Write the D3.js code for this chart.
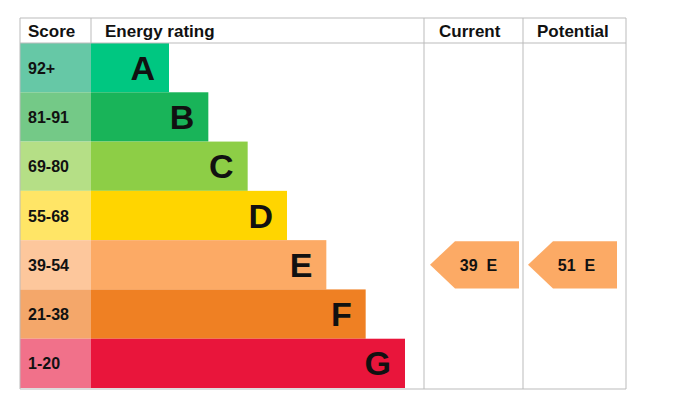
<!DOCTYPE html><html><head><meta charset="utf-8"><script src="https://cdn.jsdelivr.net/npm/d3@7"></script>
<style>body{margin:0;background:#fff}</style></head><body><svg id="c" width="676" height="406"></svg>
<script>
const bands=["A","B","C","D","E","F","G"];
const ranges=["92+","81-91","69-80","55-68","39-54","21-38","1-20"];
const bandLengths=[1,2,3,4,5,6,7];
const barColors=["#00c781","#19b459","#8dce46","#ffd500","#fcaa65","#ef8023","#e9153b"];
const scoreColors=["#66c8a6","#74c987","#b5df86","#ffe566","#fdc79c","#f4a76a","#f1718a"];
const current={score:39,band:"E"}, potential={score:51,band:"E"};
const svg=d3.select("#c");
const y=d3.scaleBand().domain(bands).range([43,388]);
const x=d3.scaleLinear().domain([1,7]).range([169,405]);
const font="Liberation Sans, Arial, sans-serif";
const g=svg.append("g");
g.selectAll(".s").data(bands).join("rect").attr("x",20).attr("width",71).attr("y",d=>y(d)).attr("height",y.bandwidth()).attr("fill",(d,i)=>scoreColors[i]);
g.selectAll(".st").data(bands).join("text").attr("x",28).attr("y",d=>y(d)+y.bandwidth()/2+6).text((d,i)=>ranges[i]).attr("font-family",font).attr("font-weight","bold").attr("font-size",16).attr("fill","#111");
g.selectAll(".b").data(bands).join("rect").attr("x",91).attr("width",(d,i)=>x(bandLengths[i])-91).attr("y",d=>y(d)).attr("height",y.bandwidth()).attr("fill",(d,i)=>barColors[i]);
g.selectAll(".bt").data(bands).join("text").attr("x",(d,i)=>x(bandLengths[i])-14).attr("y",d=>y(d)+y.bandwidth()/2+12).attr("text-anchor","end").text(d=>d).attr("font-family",font).attr("font-weight","bold").attr("font-size",34).attr("fill","#111");
const L="#bbb";
[[20,18,626,18],[20,43,626,43],[20,389,626,389],[20,18,20,389],[91,18,91,43],[424,18,424,389],[523,18,523,389],[626,18,626,389]].forEach(l=>svg.append("line").attr("x1",l[0]).attr("y1",l[1]).attr("x2",l[2]).attr("y2",l[3]).attr("stroke",L).attr("stroke-width",1));
[["Score",28],["Energy rating",105],["Current",439],["Potential",537]].forEach(h=>svg.append("text").attr("x",h[1]).attr("y",37).text(h[0]).attr("font-family",font).attr("font-weight","bold").attr("font-size",17).attr("fill","#111"));
function arrow(v,x0,x1){const yy=y(v.band),h=y.bandwidth(),c=barColors[bands.indexOf(v.band)];
 svg.append("path").attr("d",`M${x0},${yy+h/2}L${x0+25},${yy+1}L${x1},${yy+1}L${x1},${yy+h-1}L${x0+25},${yy+h-1}Z`).attr("fill",c);
 svg.append("text").attr("x",(x0+x1)/2+4).attr("y",yy+h/2+6).attr("text-anchor","middle").attr("font-family",font).attr("font-weight","bold").attr("font-size",16).attr("fill","#111").attr("xml:space","preserve").text(v.score+"  "+v.band);}
arrow(current,430,519);arrow(potential,528,617);
</script></body></html>
